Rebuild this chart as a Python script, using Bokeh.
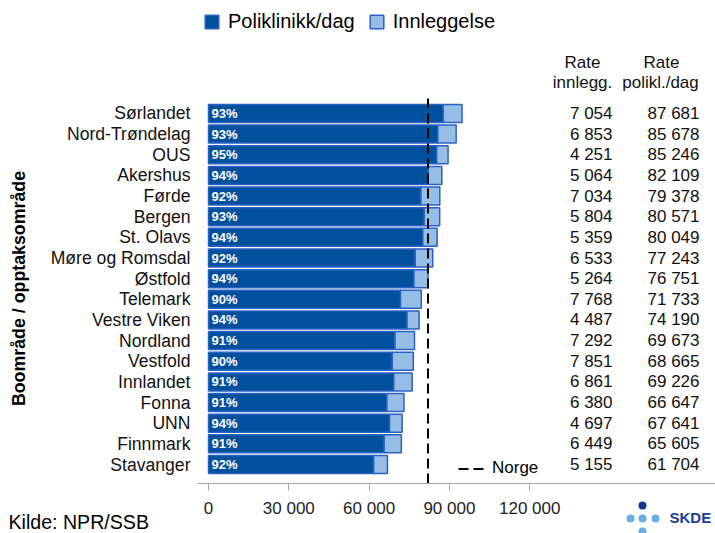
from math import pi
from bokeh.plotting import figure
from bokeh.models import (ColumnDataSource, Range1d, FixedTicker, LinearAxis,
                          Legend, LegendItem)
from bokeh.core.properties import value
from bokeh.embed import file_html
from bokeh.resources import INLINE

# ---------------- data ----------------
omraader = ["Sørlandet", "Nord-Trøndelag", "OUS", "Akershus", "Førde", "Bergen",
            "St. Olavs", "Møre og Romsdal", "Østfold", "Telemark", "Vestre Viken",
            "Nordland", "Vestfold", "Innlandet", "Fonna", "UNN", "Finnmark", "Stavanger"]
rate_innlegg = [7054, 6853, 4251, 5064, 7034, 5804, 5359, 6533, 5264, 7768, 4487,
                7292, 7851, 6861, 6380, 4697, 6449, 5155]
rate_polikl = [87681, 85678, 85246, 82109, 79378, 80571, 80049, 77243, 76751, 71733,
               74190, 69673, 68665, 69226, 66647, 67641, 65605, 61704]
norge = 82000
x_ticks = [0, 30000, 60000, 90000, 120000]
x_tick_labels = ["0", "30 000", "60 000", "90 000", "120 000"]

# ---------------- layout helpers (pixel -> data) ----------------
K = 30000 / 80.3          # data units per pixel (x)
X0 = 208                  # pixel position of x = 0
ROW = 20.65               # pixels per row
Y0 = 464                  # pixel position of last row (y = 0)
def dx(px):
    return (px - X0) * K
def dy(py):
    return (Y0 - py) / ROW

FONT = "Liberation Sans"
DARK = "#00509E"
LIGHT = "#95BDE6"
EDGE = "#2a62c2"
TXT = "#111111"

n = len(omraader)
ys = [n - 1 - i for i in range(n)]
totals = [p + q for p, q in zip(rate_polikl, rate_innlegg)]
pct = [f"{int(p / t * 100 + 0.5)}%" for p, t in zip(rate_polikl, totals)]
fmt = lambda v: f"{v:,}".replace(",", " ")

src = ColumnDataSource(dict(
    y=ys, name=omraader, polikl=rate_polikl, innlegg=rate_innlegg, total=totals,
    pct=pct, innlegg_txt=[fmt(v) for v in rate_innlegg],
    polikl_txt=[fmt(v) for v in rate_polikl],
    lab_x=[dx(190)] * n, pct_x=[dx(211)] * n,
    col1_x=[dx(612)] * n, col2_x=[dx(699)] * n,
))

p = figure(width=715, height=533, output_backend="svg", toolbar_location=None,
           x_range=Range1d(dx(0), dx(715)), y_range=Range1d(dy(533), dy(0)),
           min_border_left=0, min_border_right=0, min_border_top=0,
           min_border_bottom=0, x_axis_type=None, y_axis_type=None)
p.outline_line_color = None
p.xgrid.visible = False
p.ygrid.visible = False
p.background_fill_color = "white"
p.border_fill_color = "white"

# x axis, drawn at a fixed location below the bars
ax = LinearAxis(ticker=FixedTicker(ticks=x_ticks), fixed_location=dy(483),
                bounds=(dx(197), dx(715)))
ax.major_label_overrides = {t: l for t, l in zip(x_ticks, x_tick_labels)}
ax.axis_line_color = "#a6a6a6"
ax.major_tick_line_color = "#a6a6a6"
ax.major_tick_out = 7
ax.major_tick_in = 0
ax.minor_tick_line_color = None
ax.major_label_text_font = FONT
ax.major_label_text_font_size = "17px"
ax.major_label_text_color = "#222222"
ax.major_label_standoff = 8
p.add_layout(ax, "below")

# bars
r_pol = p.hbar(y="y", left=0, right="polikl", height=0.87, source=src,
               fill_color=DARK, line_color=EDGE, line_width=1.5)
r_inn = p.hbar(y="y", left="polikl", right="total", height=0.87, source=src,
               fill_color=LIGHT, line_color=EDGE, line_width=1.5)

# percent labels in bars
p.text(x="pct_x", y="y", text="pct", source=src, text_color="white",
       text_font=value(FONT), text_font_size="13px", text_font_style="bold",
       text_baseline="middle", text_align="left")

# Norway reference line
r_norge = p.line(x=[norge, norge], y=[dy(483), dy(95)], line_color="black",
                 line_width=2, line_dash="10 5")

# category names
p.text(x="lab_x", y="y", text="name", source=src, text_font=value(FONT),
       text_font_size="17.6px", text_color=TXT, text_align="right",
       text_baseline="middle")

# table columns
p.text(x="col1_x", y="y", text="innlegg_txt", source=src, text_font=value(FONT),
       text_font_size="17px", text_color=TXT, text_align="right",
       text_baseline="middle")
p.text(x="col2_x", y="y", text="polikl_txt", source=src, text_font=value(FONT),
       text_font_size="17px", text_color=TXT, text_align="right",
       text_baseline="middle")
p.text(x=[dx(582), dx(582), dx(661), dx(660)], y=[dy(62), dy(82), dy(62), dy(82)],
       text=["Rate", "innlegg.", "Rate", "polikl./dag"], text_font=value(FONT),
       text_font_size="17px", text_color=TXT, text_align="center",
       text_baseline="middle")

# y axis title
p.text(x=[dx(18)], y=[dy(288)], text=["Boområde / opptaksområde"], angle=pi / 2,
       text_font=value(FONT), text_font_size="17.8px", text_font_style="bold",
       text_color="black", text_align="center", text_baseline="middle")

# source note
p.text(x=[dx(8)], y=[dy(521)], text=["Kilde: NPR/SSB"], text_font=value(FONT),
       text_font_size="19.6px", text_color="black", text_align="left",
       text_baseline="middle")

# SKDE logo
p.scatter(x=[dx(642), dx(630), dx(642), dx(655), dx(642)],
          y=[dy(505), dy(518), dy(518), dy(518), dy(531)], size=8,
          fill_color=["#0b3a8c", "#6aaee6", "#6aaee6", "#6aaee6", "#6aaee6"],
          line_color=None)
p.text(x=[dx(669)], y=[dy(517)], text=["SKDE"], text_font=value(FONT),
       text_font_size="15px", text_font_style="bold", text_color="#1b3f8f",
       text_align="left", text_baseline="middle")

# legends
leg = Legend(items=[LegendItem(label="Poliklinikk/dag", renderers=[r_pol]),
                    LegendItem(label="Innleggelse", renderers=[r_inn])],
             orientation="horizontal", location=(203, 500),
             label_text_font=FONT, label_text_font_size="20px",
             label_text_color="black", glyph_width=17, glyph_height=17,
             label_standoff=8, spacing=13, padding=0, margin=0,
             border_line_color=None, background_fill_alpha=0)
p.add_layout(leg, "center")
leg2 = Legend(items=[LegendItem(label="Norge", renderers=[r_norge])],
              location=(458, 55), label_text_font=FONT, label_text_font_size="17px",
              label_text_color="black", glyph_width=29, glyph_height=17,
              label_standoff=5, padding=0, margin=0, border_line_color=None,
              background_fill_alpha=0)
p.add_layout(leg2, "center")

open("out.html", "w").write(file_html(p, INLINE))
